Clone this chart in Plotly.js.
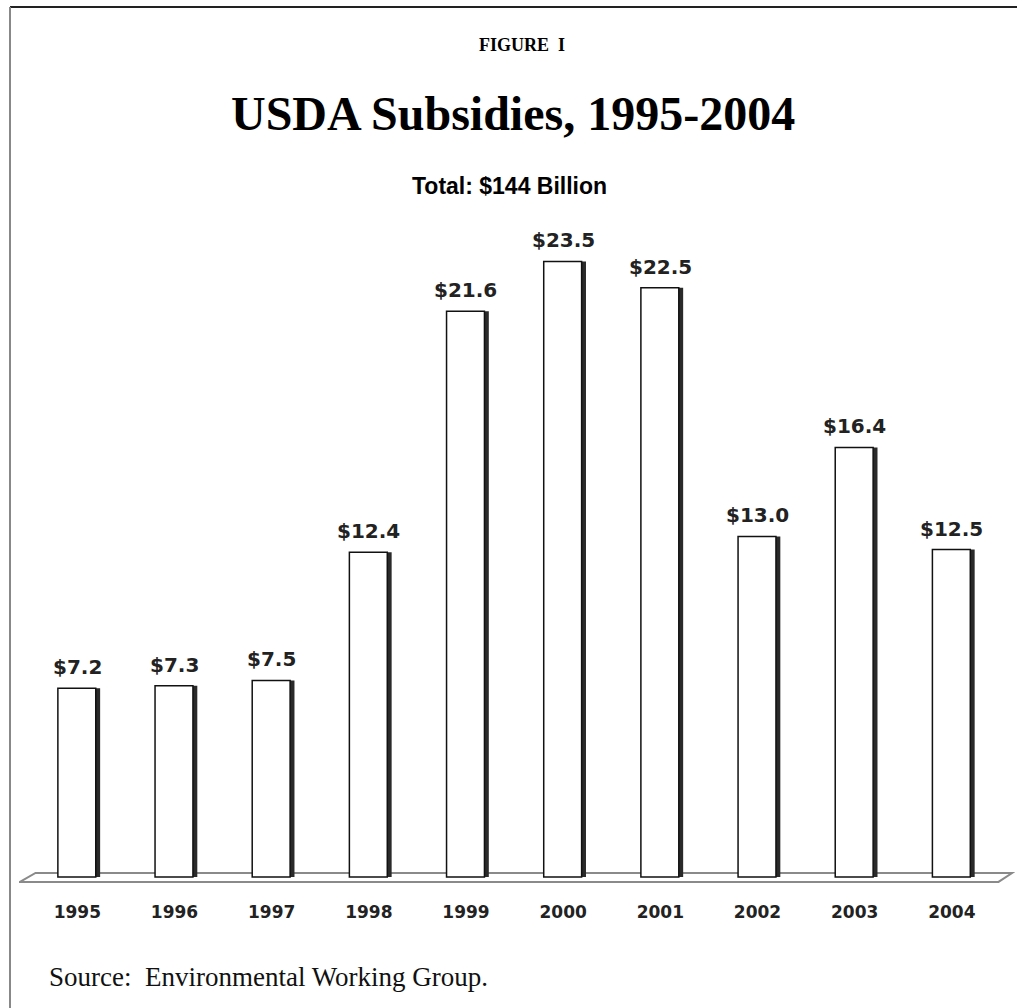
<!DOCTYPE html>
<html>
<head>
<meta charset="utf-8">
<script src="https://cdn.plot.ly/plotly-3.0.1.min.js"></script>
<style>
  html, body { margin: 0; padding: 0; background: #fff; }
  #chart { width: 1017px; height: 1008px; }
</style>
</head>
<body>
<div id="chart"></div>
<script>
// ---- data ----
const years = ["1995", "1996", "1997", "1998", "1999", "2000", "2001", "2002", "2003", "2004"];
const subsidies = [7.2, 7.3, 7.5, 12.4, 21.6, 23.5, 22.5, 13.0, 16.4, 12.5];
const valueLabels = ["$7.2", "$7.3", "$7.5", "$12.4", "$21.6", "$23.5", "$22.5", "$13.0", "$16.4", "$12.5"];

// ---- geometry helpers ----
const W = 1017, H = 1008;
const M = { l: 19, r: 2, t: 196, b: 118 };
const PW = W - M.l - M.r, PH = H - M.t - M.b;
const px = x => (x - M.l) / PW;
const py = y => (H - M.b - y) / PH;

const idx = years.map((_, i) => i);

const shadow = {
  type: 'bar', x: idx, y: subsidies,
  width: 0.05, offset: 0.185,
  marker: { color: '#2a2a2a', line: { width: 0 } },
  hoverinfo: 'skip', showlegend: false
};
const bars = {
  type: 'bar', x: idx, y: subsidies,
  width: 0.39, offset: -0.2,
  marker: { color: '#ffffff', line: { color: '#111', width: 1.5 } },
  hoverinfo: 'skip', showlegend: false
};

const labelFont = { family: 'DejaVu Sans, Verdana, sans-serif', size: 20, color: '#222', weight: 'bold' };
const valueAnnotations = idx.map(i => ({
  x: i, y: subsidies[i], xref: 'x', yref: 'y', text: valueLabels[i],
  showarrow: false, xanchor: 'center', yanchor: 'bottom', yshift: 7, font: labelFont
}));

const layout = {
  width: W, height: H,
  margin: M,
  paper_bgcolor: '#fff', plot_bgcolor: 'rgba(0,0,0,0)',
  barmode: 'overlay',
  xaxis: {
    range: [-0.6, 9.65], tickmode: 'array', tickvals: idx, ticktext: years,
    showgrid: false, zeroline: false, showline: false, ticks: '',
    ticklabelstandoff: 10,
    tickfont: { family: 'DejaVu Sans, Verdana, sans-serif', size: 17, color: '#222', weight: 'bold' },
    fixedrange: true
  },
  yaxis: {
    range: [-0.5, 26], visible: false, showgrid: false, zeroline: false, fixedrange: true
  },
  shapes: [
    // floor platform
    { type: 'path', xref: 'x', yref: 'y', layer: 'below',
      path: 'M -0.59 -0.19 L -0.43 0.15 L 9.62 0.15 L 9.48 -0.19 Z',
      fillcolor: 'rgba(0,0,0,0)', line: { color: '#8a8a8a', width: 2 } },
    // frame
    { type: 'line', xref: 'paper', yref: 'paper', x0: px(10), x1: px(1020), y0: py(7), y1: py(7),
      line: { color: '#222', width: 2 } },
    { type: 'line', xref: 'paper', yref: 'paper', x0: px(10), x1: px(10), y0: py(7), y1: py(1012),
      line: { color: '#888', width: 2 } }
  ],
  annotations: valueAnnotations.concat([
    { text: 'FIGURE  I', xref: 'paper', yref: 'paper', x: px(522), y: py(45), xanchor: 'center', yanchor: 'middle',
      showarrow: false, font: { family: 'Liberation Serif, Times New Roman, serif', size: 18, color: '#000', weight: 'bold' } },
    { text: 'USDA Subsidies, 1995-2004', xref: 'paper', yref: 'paper', x: px(513), y: py(113), xanchor: 'center', yanchor: 'middle',
      showarrow: false, font: { family: 'Liberation Serif, Times New Roman, serif', size: 48, color: '#000', weight: 'bold' } },
    { text: 'Total: $144 Billion', xref: 'paper', yref: 'paper', x: px(509), y: py(186), xanchor: 'center', yanchor: 'middle',
      showarrow: false, font: { family: 'Liberation Sans, Arial, sans-serif', size: 23, color: '#000', weight: 'bold' } },
    { text: 'Source:  Environmental Working Group.', xref: 'paper', yref: 'paper', x: px(47), y: py(977), xanchor: 'left', yanchor: 'middle',
      showarrow: false, font: { family: 'Liberation Serif, Times New Roman, serif', size: 27, color: '#111' } }
  ])
};

Plotly.newPlot('chart', [shadow, bars], layout, { staticPlot: true, displayModeBar: false });
</script>
</body>
</html>
